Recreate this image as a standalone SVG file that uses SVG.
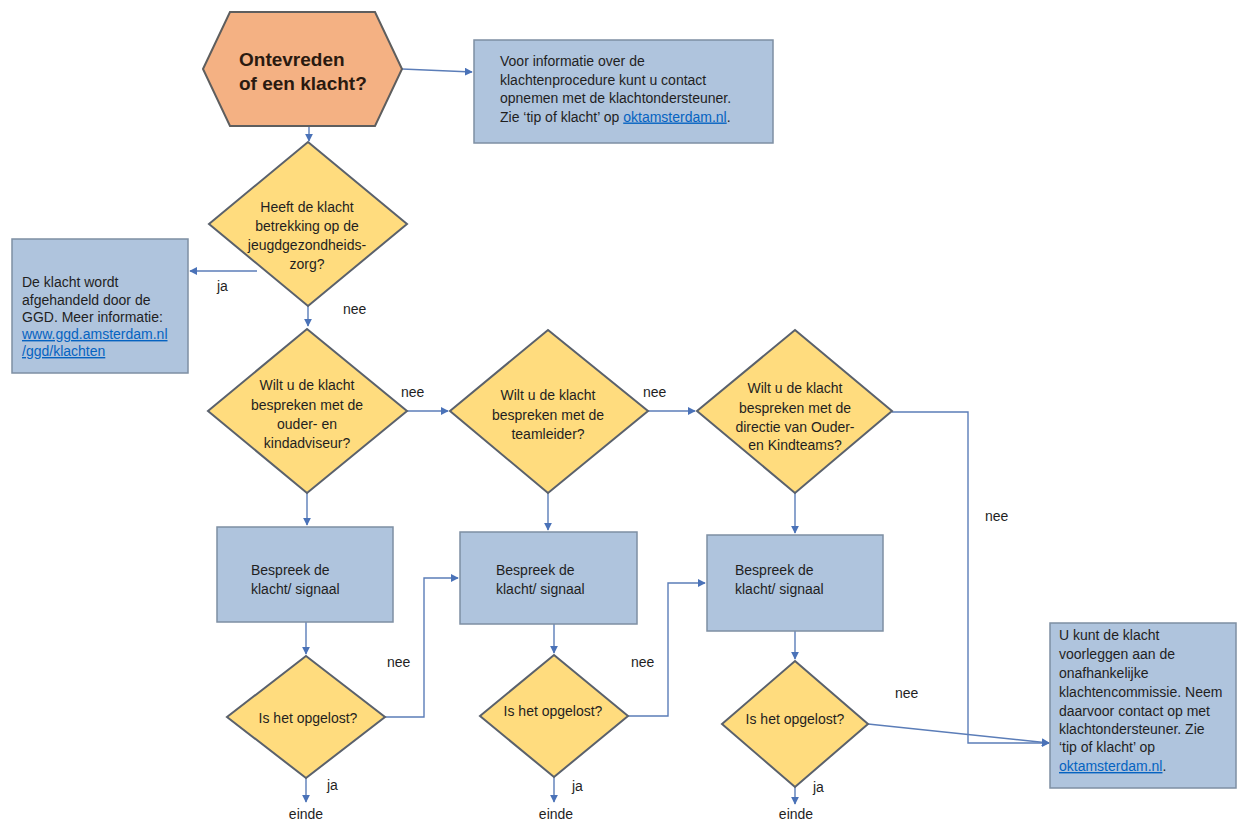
<svg xmlns="http://www.w3.org/2000/svg" width="1240" height="821" viewBox="0 0 1240 821">
<defs>
<marker id="arr" viewBox="0 0 10 10" refX="9" refY="5" markerWidth="8" markerHeight="8" markerUnits="userSpaceOnUse" orient="auto">
<path d="M0,0 L10,5 L0,10 z" fill="#4A72B8"/>
</marker>
<style>
.hex{fill:#F4B183;stroke:#5E5E5E;stroke-width:2}
.dia{fill:#FFDC7E;stroke:#5A616C;stroke-width:2}
.box{fill:#AFC4DD;stroke:#7E8FA3;stroke-width:1.5}
.con{fill:none;stroke:#5B7DB8;stroke-width:1.4;marker-end:url(#arr)}
.t{font-family:"Liberation Sans",Arial,sans-serif;font-size:14px;fill:#1F1F1F}
.c{text-anchor:middle}
.lbl{font-family:"Liberation Sans",Arial,sans-serif;font-size:14px;fill:#1F1F1F}
.h{font-family:"Liberation Sans",Arial,sans-serif;font-size:19px;font-weight:bold;fill:#2A1A10}
.lnk{fill:#0563C1;text-decoration:underline}
</style>
</defs>
<rect width="1240" height="821" fill="#FFFFFF"/>

<g id="connectors">
<path class="con" d="M402,69 L472,72"/>
<path class="con" d="M309,126 L309,141"/>
<path class="con" d="M257,271 L190,271"/>
<path class="con" d="M308,306 L308,326"/>
<path class="con" d="M407,411 L448,411"/>
<path class="con" d="M648,411 L695,411"/>
<path class="con" d="M892,412 L968,412 L968,743 L1049,743"/>
<path class="con" d="M307,493 L307,525"/>
<path class="con" d="M548,493 L548,530"/>
<path class="con" d="M795,493 L795,533"/>
<path class="con" d="M306,622 L306,654"/>
<path class="con" d="M554,624 L554,653"/>
<path class="con" d="M795,631 L795,659"/>
<path class="con" d="M385,717 L424,717 L424,578 L458,578"/>
<path class="con" d="M628,716 L668,716 L668,583 L705,583"/>
<path class="con" d="M868,724 L1049,743"/>
<path class="con" d="M306,778 L306,802"/>
<path class="con" d="M554,777 L554,802"/>
<path class="con" d="M795,787 L795,804"/>
</g>

<g id="labels">
<text class="lbl" x="343" y="314">nee</text>
<text class="lbl" x="217" y="291">ja</text>
<text class="lbl" x="401" y="397">nee</text>
<text class="lbl" x="643" y="397">nee</text>
<text class="lbl" x="985" y="521">nee</text>
<text class="lbl" x="387" y="667">nee</text>
<text class="lbl" x="631" y="667">nee</text>
<text class="lbl" x="895" y="698">nee</text>
<text class="lbl" x="327" y="790">ja</text>
<text class="lbl" x="572" y="791">ja</text>
<text class="lbl" x="813" y="792">ja</text>
<text class="lbl c" x="306" y="819">einde</text>
<text class="lbl c" x="556" y="819">einde</text>
<text class="lbl c" x="796" y="819">einde</text>
</g>

<g id="start">
<polygon class="hex" points="203,69 230,12 375,12 402,69 375,126 230,126"/>
<text class="h" x="239" y="66">Ontevreden</text>
<text class="h" x="239" y="90">of een klacht?</text>
</g>

<g id="info">
<rect class="box" x="474" y="40" width="299" height="103"/>
<text class="t" x="500" y="66">Voor informatie over de</text>
<text class="t" x="500" y="84.5">klachtenprocedure kunt u contact</text>
<text class="t" x="500" y="103">opnemen met de klachtondersteuner.</text>
<text class="t" x="500" y="121.5">Zie ‘tip of klacht’ op <tspan class="lnk">oktamsterdam.nl</tspan>.</text>
</g>

<g id="q-jgz">
<polygon class="dia" points="308,142 407,224 308,306 209,224"/>
<text class="t c" x="307" y="211.5">Heeft de klacht</text>
<text class="t c" x="307" y="230.5">betrekking op de</text>
<text class="t c" x="307" y="249.5">jeugdgezondheids-</text>
<text class="t c" x="307" y="268.5">zorg?</text>
</g>

<g id="ggd">
<rect class="box" x="12" y="239" width="176" height="134"/>
<text class="t" x="22" y="287">De klacht wordt</text>
<text class="t" x="22" y="305">afgehandeld door de</text>
<text class="t" x="22" y="322">GGD. Meer informatie:</text>
<text class="t" x="22" y="339"><tspan class="lnk">www.ggd.amsterdam.nl</tspan></text>
<text class="t" x="22" y="356"><tspan class="lnk">/ggd/klachten</tspan></text>
</g>

<g id="q-adviseur">
<polygon class="dia" points="307,329 407,411 307,493 208,411"/>
<text class="t c" x="307" y="389.5">Wilt u de klacht</text>
<text class="t c" x="307" y="409.5">bespreken met de</text>
<text class="t c" x="307" y="428.5">ouder- en</text>
<text class="t c" x="307" y="447.5">kindadviseur?</text>
</g>

<g id="q-teamleider">
<polygon class="dia" points="548,330 648,411 548,493 450,411"/>
<text class="t c" x="548" y="399.5">Wilt u de klacht</text>
<text class="t c" x="548" y="419.5">bespreken met de</text>
<text class="t c" x="548" y="438.5">teamleider?</text>
</g>

<g id="q-directie">
<polygon class="dia" points="795,330 892,411 795,493 697,411"/>
<text class="t c" x="795" y="392.5">Wilt u de klacht</text>
<text class="t c" x="795" y="412.5">bespreken met de</text>
<text class="t c" x="795" y="431.5">directie van Ouder-</text>
<text class="t c" x="795" y="449.5">en Kindteams?</text>
</g>

<g id="bespreek1">
<rect class="box" x="217" y="527" width="176" height="95"/>
<text class="t" x="251" y="574.5">Bespreek de</text>
<text class="t" x="251" y="593.5">klacht/ signaal</text>
</g>

<g id="bespreek2">
<rect class="box" x="460" y="532" width="177" height="92"/>
<text class="t" x="496" y="574.5">Bespreek de</text>
<text class="t" x="496" y="593.5">klacht/ signaal</text>
</g>

<g id="bespreek3">
<rect class="box" x="707" y="535" width="176" height="96"/>
<text class="t" x="735" y="574.5">Bespreek de</text>
<text class="t" x="735" y="593.5">klacht/ signaal</text>
</g>

<g id="opgelost1">
<polygon class="dia" points="306,656 385,717 306,778 227,717"/>
<text class="t c" x="308" y="722.5">Is het opgelost?</text>
</g>

<g id="opgelost2">
<polygon class="dia" points="554,655 628,716 554,777 480,716"/>
<text class="t c" x="553" y="715.5">Is het opgelost?</text>
</g>

<g id="opgelost3">
<polygon class="dia" points="795,661 868,724 795,787 722,724"/>
<text class="t c" x="795" y="724">Is het opgelost?</text>
</g>

<g id="commissie">
<rect class="box" x="1050" y="623" width="186" height="165"/>
<text class="t" x="1059" y="639.5">U kunt de klacht</text>
<text class="t" x="1059" y="659">voorleggen aan de</text>
<text class="t" x="1059" y="678">onafhankelijke</text>
<text class="t" x="1059" y="697">klachtencommissie. Neem</text>
<text class="t" x="1059" y="716">daarvoor contact op met</text>
<text class="t" x="1059" y="734">klachtondersteuner. Zie</text>
<text class="t" x="1059" y="752">‘tip of klacht’ op</text>
<text class="t" x="1059" y="771"><tspan class="lnk">oktamsterdam.nl</tspan>.</text>
</g>
</svg>
